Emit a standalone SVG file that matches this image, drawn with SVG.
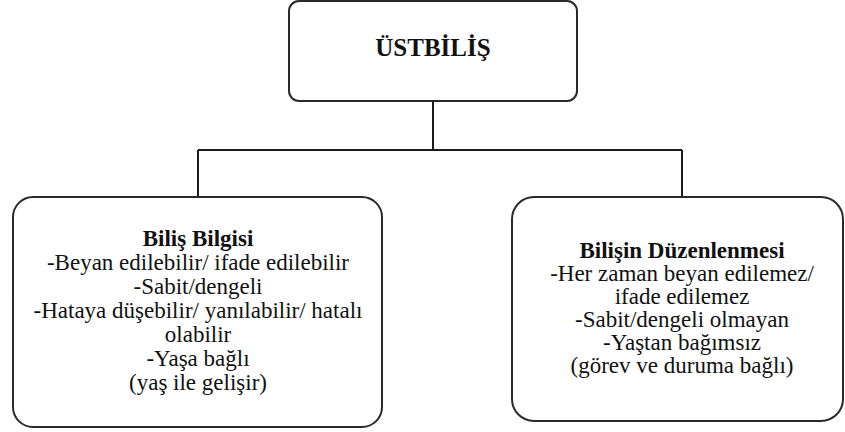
<svg xmlns="http://www.w3.org/2000/svg" width="845" height="432" viewBox="0 0 845 432">
<style>
.box{fill:#fff;stroke:#2a2a2a;stroke-width:2}
.conn{fill:none;stroke:#1a1a1a;stroke-width:2}
text{font-family:"Liberation Serif","Times New Roman",serif;fill:#111;text-anchor:middle}
.t{font-size:23px}
.b{font-weight:bold}
.title{font-size:25px;font-weight:bold}
</style>
<rect width="845" height="432" fill="#fff"/>
<g id="connectors">
<path class="conn" d="M433 101V150M198 150H682M198 150V197M682 150V197"/>
</g>
<g id="ustbilis">
<rect class="box" x="289" y="1" width="288" height="100" rx="10"/>
<text class="title" x="433" y="56">ÜSTBİLİŞ</text>
</g>
<g id="bilis-bilgisi">
<rect class="box" x="13" y="197" width="369" height="230" rx="20"/>
<text class="t" x="198" y="246"><tspan class="b">Biliş Bilgisi</tspan><tspan x="198" y="270">-Beyan edilebilir/ ifade edilebilir</tspan><tspan x="198" y="294">-Sabit/dengeli</tspan><tspan x="198" y="318">-Hataya düşebilir/ yanılabilir/ hatalı</tspan><tspan x="198" y="342">olabilir</tspan><tspan x="198" y="366">-Yaşa bağlı</tspan><tspan x="198" y="390">(yaş ile gelişir)</tspan></text>
</g>
<g id="bilisin-duzenlenmesi">
<rect class="box" x="512" y="197" width="331" height="224" rx="22"/>
<text class="t" x="682" y="258"><tspan class="b">Bilişin Düzenlenmesi</tspan><tspan x="682" y="281">-Her zaman beyan edilemez/</tspan><tspan x="682" y="304">ifade edilemez</tspan><tspan x="682" y="327">-Sabit/dengeli olmayan</tspan><tspan x="682" y="350">-Yaştan bağımsız</tspan><tspan x="682" y="373">(görev ve duruma bağlı)</tspan></text>
</g>
</svg>
